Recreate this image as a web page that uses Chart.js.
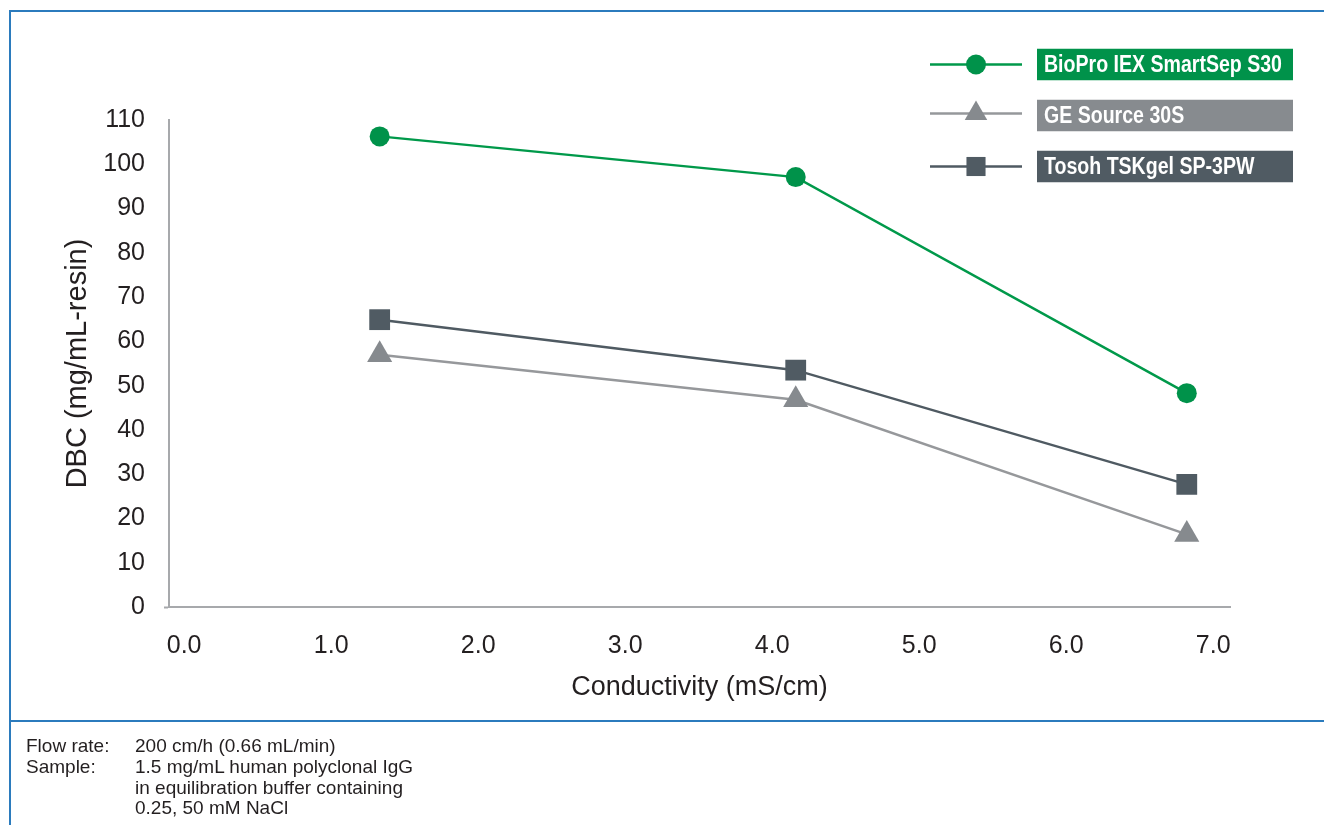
<!DOCTYPE html>
<html>
<head>
<meta charset="utf-8">
<script src="https://cdn.jsdelivr.net/npm/chart.js@4.4.1/dist/chart.umd.min.js"></script>
<style>
  html, body { margin: 0; padding: 0; background: #ffffff; }
  #page { position: relative; width: 1324px; height: 825px; overflow: hidden; font-family: "Liberation Sans", Arial, sans-serif; }
  #frame { position: absolute; left: 9px; top: 10px; right: -10px; bottom: -10px; border-left: 2px solid #2b7bbd; border-top: 2px solid #2b7bbd; }
  #sep { position: absolute; left: 9px; right: 0; top: 720px; height: 0; border-top: 2px solid #2b7bbd; }
  #wrap { position: absolute; left: 0; top: 0; width: 1324px; height: 825px; }
  #note { position: absolute; left: 26px; top: 736px; font-size: 19px; line-height: 20.8px; color: #231f20; }
  #note td { padding: 0; vertical-align: top; }
  #note td.k { width: 109px; }
</style>
</head>
<body>
<div id="page">
  <div id="frame"></div>
  <div id="sep"></div>
  <div id="wrap"><canvas id="c"></canvas></div>
  <table id="note" cellspacing="0" cellpadding="0">
    <tr><td class="k">Flow rate:</td><td>200 cm/h (0.66 mL/min)</td></tr>
    <tr><td class="k">Sample:</td><td>1.5 mg/mL human polyclonal IgG<br>in equilibration buffer containing<br>0.25, 50 mM NaCl</td></tr>
  </table>
</div>
<script>
// ---- data ----
const conductivity = [1.33, 4.16, 6.82];
const bioProS30   = [106.3, 97.1, 48.3];
const geSource30S = [57.0, 46.8, 16.4];
const tosohSP3PW  = [64.9, 53.5, 27.7];
const seriesNames = ["BioPro IEX SmartSep S30", "GE Source 30S", "Tosoh TSKgel SP-3PW"];
const xTickValues = [0, 1, 2, 3, 4, 5, 6, 7];
const yTickValues = [0, 10, 20, 30, 40, 50, 60, 70, 80, 90, 100, 110];
const xTitle = "Conductivity (mS/cm)";
const yTitle = "DBC (mg/mL-resin)";

const axisColor = "#a7a9ac";
const textColor = "#231f20";
const baseFont = "'Liberation Sans', Arial, sans-serif";

function pts(ys) { return conductivity.map((x, i) => ({ x: x, y: ys[i] })); }

const legendPlugin = {
  id: "boxLegend",
  afterDraw(chart) {
    const ctx = chart.ctx;
    const o = chart.options.plugins.boxLegend;
    ctx.save();
    ctx.font = o.font;
    const natural = ctx.measureText(chart.data.datasets[0].label).width;
    const sx = o.firstTextWidth / natural;
    chart.data.datasets.forEach((ds, i) => {
      const cy = o.top + i * o.rowStep;
      const ly = cy + (o.lineOffsets[i] || 0);
      ctx.strokeStyle = ds.borderColor;
      ctx.lineWidth = ds.borderWidth;
      ctx.beginPath();
      ctx.moveTo(o.lineX0, ly);
      ctx.lineTo(o.lineX1, ly);
      ctx.stroke();
      ctx.fillStyle = ds.pointBackgroundColor;
      ctx.strokeStyle = ds.pointBackgroundColor;
      Chart.helpers.drawPoint(ctx, { pointStyle: ds.pointStyle, radius: o.markerRadius[i], rotation: 0, borderWidth: 0 }, (o.lineX0 + o.lineX1) / 2, ly);
      ctx.fillStyle = o.boxColors[i];
      ctx.fillRect(o.boxX, cy - o.boxH / 2, o.boxW, o.boxH);
      ctx.save();
      ctx.translate(o.boxX + o.textPad, cy + 1);
      ctx.scale(sx, 1);
      ctx.fillStyle = "#ffffff";
      ctx.textBaseline = "middle";
      ctx.textAlign = "left";
      ctx.font = o.font;
      ctx.fillText(ds.label, 0, 0);
      ctx.restore();
    });
    ctx.restore();
  }
};

new Chart(document.getElementById("c"), {
  type: "line",
  data: {
    datasets: [
      { label: seriesNames[0], data: pts(bioProS30), borderColor: "#00994a", backgroundColor: "#00994a",
        pointBackgroundColor: "#00924a", pointBorderWidth: 0, pointStyle: "circle", pointRadius: 10, borderWidth: 2.5 },
      { label: seriesNames[1], data: pts(geSource30S), borderColor: "#96989b", backgroundColor: "#96989b",
        pointBackgroundColor: "#868a8e", pointBorderWidth: 0, pointStyle: "triangle", pointRadius: 14.5, borderWidth: 2.5 },
      { label: seriesNames[2], data: pts(tosohSP3PW), borderColor: "#4f5a62", backgroundColor: "#4f5a62",
        pointBackgroundColor: "#505b63", pointBorderWidth: 0, pointStyle: "rect", pointRadius: 14.7, borderWidth: 2.5 }
    ]
  },
  options: {
    responsive: true,
    maintainAspectRatio: false,
    animation: false,
    layout: { padding: { top: 120, right: 94, bottom: 0, left: 0 } },
    plugins: {
      legend: { display: false },
      tooltip: { enabled: false },
      boxLegend: {
        font: "bold 23px 'Liberation Sans', Arial, sans-serif",
        firstTextWidth: 238,
        top: 64.5, rowStep: 51, lineOffsets: [0, -2, 0],
        lineX0: 930, lineX1: 1022, markerRadius: [10, 13, 13.5],
        boxX: 1037, boxW: 256, boxH: 31.5, textPad: 7,
        boxColors: ["#00924a", "#878b8f", "#505b63"]
      }
    },
    scales: {
      x: {
        type: "linear",
        min: -0.103,
        max: 7.114,
        afterBuildTicks(s) { s.ticks = xTickValues.map(v => ({ value: v })); },
        afterFit(s) { s.height = 218; },
        border: { display: true, color: axisColor, width: 2 },
        grid: { display: true, drawOnChartArea: false, drawTicks: false },
        ticks: { color: textColor, font: { family: baseFont, size: 25 }, padding: 24,
                 maxRotation: 0, autoSkip: false, callback: v => Number(v).toFixed(1) },
        title: { display: true, text: xTitle, color: textColor, font: { family: baseFont, size: 27 },
                 padding: { top: 0, bottom: 121 } }
      },
      y: {
        type: "linear",
        min: 0,
        max: 110,
        afterBuildTicks(s) { s.ticks = yTickValues.map(v => ({ value: v })); },
        afterFit(s) { s.width = 169; },
        border: { display: true, color: axisColor, width: 2 },
        grid: { display: true, drawOnChartArea: false, drawTicks: true, tickLength: 5, tickWidth: 2,
                tickColor: c => (c.tick && c.tick.value === 0) ? axisColor : "rgba(0,0,0,0)" },
        ticks: { color: textColor, font: { family: baseFont, size: 25 }, padding: 19, autoSkip: false },
        title: { display: true, text: yTitle, color: textColor, font: { family: baseFont, size: 29 },
                 padding: { top: 60.5, bottom: 0 } }
      }
    }
  },
  plugins: [legendPlugin]
});
</script>
</body>
</html>
